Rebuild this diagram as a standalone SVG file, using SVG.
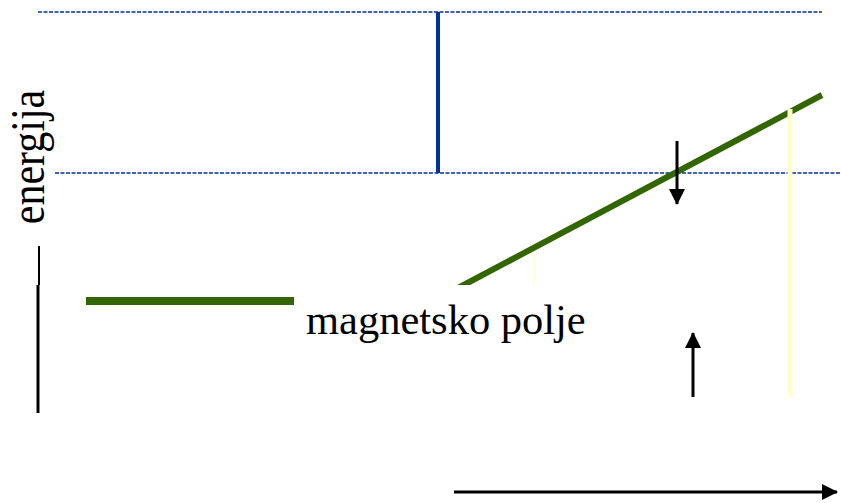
<svg xmlns="http://www.w3.org/2000/svg" width="841" height="503" viewBox="0 0 841 503">
<style>
.dot{stroke:#003399;stroke-width:1.5;stroke-dasharray:4 1.5;fill:none}
.arr{stroke:#000;stroke-width:3;fill:none}
.lbl{font-family:"Liberation Serif","Times New Roman",serif;fill:#000}
</style>
<defs>
<marker id="ah" viewBox="0 0 16 16" refX="15" refY="8" markerWidth="16" markerHeight="16" markerUnits="userSpaceOnUse" orient="auto">
<path d="M0,0 L16,8 L0,16 Z" fill="#000"/>
</marker>
</defs>
<rect width="841" height="503" fill="#fff"/>
<g id="levels">
<line class="dot" x1="38" y1="12" x2="822" y2="12"/>
<line class="dot" x1="55" y1="173" x2="841" y2="173"/>
<line x1="438" y1="12" x2="438" y2="173" stroke="#003399" stroke-width="4"/>
</g>
<g id="green">
<line x1="86" y1="301" x2="294" y2="301" stroke="#336600" stroke-width="8"/>
<line x1="458" y1="288" x2="822" y2="95" stroke="#336600" stroke-width="6"/>
<line x1="534" y1="252" x2="534" y2="285" stroke="#ffffcc" stroke-width="1.5"/>
<line x1="790" y1="109" x2="790" y2="397" stroke="#ffffcc" stroke-width="5"/>
</g>
<rect x="294" y="285" width="300" height="70" fill="#fff"/>
<g id="axis">
<line x1="39" y1="246" x2="39" y2="285" stroke="#000" stroke-width="2"/>
<line x1="38" y1="285" x2="38" y2="413" stroke="#000" stroke-width="3"/>
</g>
<g id="connectors">
<line class="arr" x1="677" y1="141" x2="677" y2="204" marker-end="url(#ah)"/>
<line class="arr" x1="693" y1="397" x2="693" y2="333" marker-end="url(#ah)"/>
<line class="arr" x1="454" y1="492" x2="837" y2="492" marker-end="url(#ah)"/>
</g>
<g id="labels">
<text class="lbl" font-size="42.5" x="306" y="334">magnetsko polje</text>
<text class="lbl" font-size="42" text-anchor="middle" transform="translate(44,157) rotate(-90) scale(1,1.18)">energija</text>
</g>
</svg>
